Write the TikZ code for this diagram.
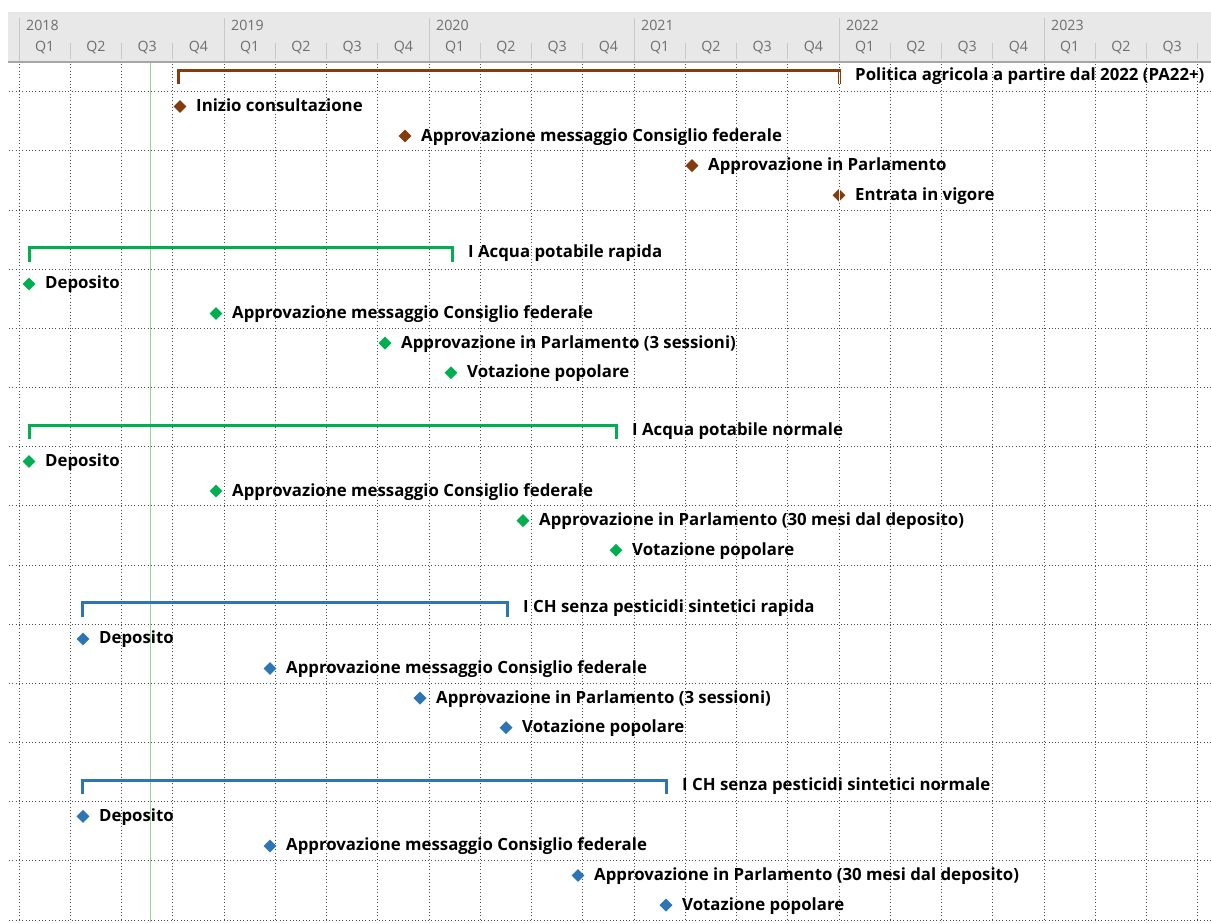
\documentclass[tikz,border=0pt]{standalone}
\usepackage{fontspec}
\setmainfont{Open Sans}
\usetikzlibrary{shapes.geometric}
\definecolor{brn}{RGB}{132,60,12}
\definecolor{grn}{RGB}{0,176,80}
\definecolor{blu}{RGB}{46,117,182}
\definecolor{hdr}{RGB}{232,232,232}
\definecolor{hdrtxt}{RGB}{110,110,110}
\definecolor{hdrsep}{RGB}{200,200,200}
\definecolor{todaycol}{RGB}{150,210,150}
\tikzset{
  ms/.style={diamond, fill=#1, draw=none, inner sep=0pt, minimum width=13pt, minimum height=13pt},
  lbl/.style={anchor=base west, inner sep=0pt, font=\bfseries\fontsize{16.8}{19}\selectfont, text=black},
  hlbl/.style={inner sep=0pt, font=\fontsize{14.2}{16}\selectfont, text=hdrtxt},
  dotgrid/.style={black!70, line width=0.9pt, dash pattern=on 0.9pt off 2.4pt},
  brk/.style={line width=3pt, #1, line join=miter},
}
\newcommand\RY[1]{76.9+29.58*#1}
\newcommand\mstone[5]{%
  \node[ms=#2] (#1) at (#3,{\RY{#4}}) {};
  \node[lbl] (#1-t) at ({#3+16},{\RY{#4}+5}) {#5};
}
\newcommand\bracket[6]{%
  \coordinate (#1-a) at (#3,{\RY{#5}+7.5});
  \coordinate (#1-b) at (#3,{\RY{#5}-6.5});
  \coordinate (#1-c) at (#4,{\RY{#5}-6.5});
  \coordinate (#1-d) at (#4,{\RY{#5}+7.5});
  \draw[brk=#2] (#1-a) -- (#1-b) -- (#1-c) -- (#1-d);
  \node[lbl] (#1-t) at ({#4+16},{\RY{#5}+3.5}) {#6};
}
\begin{document}
\begin{tikzpicture}[x=1pt,y=-1pt]
\useasboundingbox (0,0) rectangle (1211,922);
\fill[white] (0,0) rectangle (1211,922);
% header
\fill[hdr] (8,12) rectangle (1211,62);
\draw[black!35, line width=1.5pt] (8,62) -- (1211,62);
\foreach \yr [count=\i from 0] in {2018,2019,2020,2021,2022,2023} {
  \draw[hdrsep, line width=0.8pt] ({19+205*\i},18) -- ({19+205*\i},61);
  \node[hlbl, anchor=west] (y\yr) at ({26+205*\i},25.5) {\yr};
}
\foreach \q in {0,...,22} {
  \pgfmathtruncatemacro{\qq}{mod(\q,4)+1}
  \node[hlbl] (q\q) at ({19+51.25*\q+25.6},47.5) {Q\qq};
}
\foreach \q in {1,2,3,5,6,7,9,10,11,13,14,15,17,18,19,21,22,23} {
  \draw[hdrsep, line width=0.8pt] ({19+51.25*\q},43) -- ({19+51.25*\q},59);
}
% grid
\foreach \q in {0,...,23} {
  \draw[dotgrid] ({19+51.25*\q},64) -- ({19+51.25*\q},922);
}
\foreach \k in {0,...,14} {
  \draw[dotgrid] (9,{91.7+59.16*\k}) -- (1211,{91.7+59.16*\k});
}
% today line
\draw[todaycol, line width=1pt] (150,63) -- (150,922);
% PA22+
\bracket{pa}{brn}{178}{839}{0}{Politica agricola a partire dal 2022 (PA22+)}
\draw[white, line width=0.8pt] (839,{\RY{0}-5}) -- (839,{\RY{0}+7.5});
\mstone{pa1}{brn}{180}{1}{Inizio consultazione}
\mstone{pa2}{brn}{405}{2}{Approvazione messaggio Consiglio federale}
\mstone{pa3}{brn}{692}{3}{Approvazione in Parlamento}
\mstone{pa4}{brn}{839}{4}{Entrata in vigore}
\draw[white, line width=0.8pt] (pa4.north) -- (pa4.south);
% Acqua potabile rapida
\bracket{ar}{grn}{29}{452}{6}{I Acqua potabile rapida}
\mstone{ar1}{grn}{29}{7}{Deposito}
\mstone{ar2}{grn}{216}{8}{Approvazione messaggio Consiglio federale}
\mstone{ar3}{grn}{385}{9}{Approvazione in Parlamento (3 sessioni)}
\mstone{ar4}{grn}{451}{10}{Votazione popolare}
% Acqua potabile normale
\bracket{an}{grn}{29}{616}{12}{I Acqua potabile normale}
\mstone{an1}{grn}{29}{13}{Deposito}
\mstone{an2}{grn}{216}{14}{Approvazione messaggio Consiglio federale}
\mstone{an3}{grn}{523}{15}{Approvazione in Parlamento (30 mesi dal deposito)}
\mstone{an4}{grn}{616}{16}{Votazione popolare}
% CH senza pesticidi rapida
\bracket{pr}{blu}{82}{507}{18}{I CH senza pesticidi sintetici rapida}
\mstone{pr1}{blu}{83}{19}{Deposito}
\mstone{pr2}{blu}{270}{20}{Approvazione messaggio Consiglio federale}
\mstone{pr3}{blu}{420}{21}{Approvazione in Parlamento (3 sessioni)}
\mstone{pr4}{blu}{506}{22}{Votazione popolare}
% CH senza pesticidi normale
\bracket{pn}{blu}{82}{666}{24}{I CH senza pesticidi sintetici normale}
\mstone{pn1}{blu}{83}{25}{Deposito}
\mstone{pn2}{blu}{270}{26}{Approvazione messaggio Consiglio federale}
\mstone{pn3}{blu}{578}{27}{Approvazione in Parlamento (30 mesi dal deposito)}
\mstone{pn4}{blu}{666}{28}{Votazione popolare}
\end{tikzpicture}
\end{document}
